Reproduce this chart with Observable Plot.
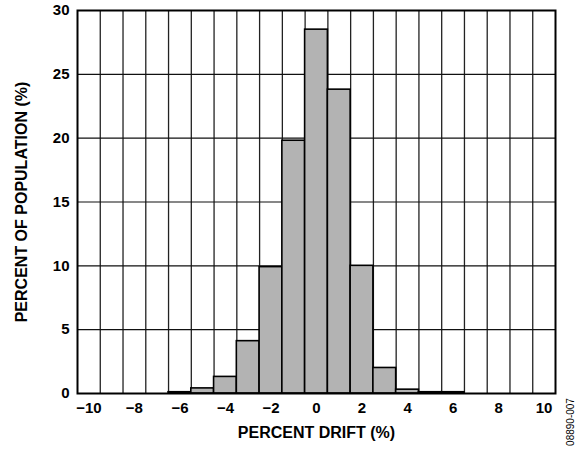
<!DOCTYPE html>
<html>
<head>
<meta charset="utf-8">
<script src="https://cdn.jsdelivr.net/npm/d3@7"></script>
<script src="https://cdn.jsdelivr.net/npm/@observablehq/plot@0.6"></script>
<style>
  html, body { margin: 0; padding: 0; background: #fff; }
  svg { display: block; }
</style>
</head>
<body>
<div id="chart"></div>
<script>
const driftBins = [-6, -5, -4, -3, -2, -1, 0, 1, 2, 3, 4, 5, 6];
const population = [0.1, 0.4, 1.3, 4.1, 9.9, 19.8, 28.5, 23.8, 10.0, 2.0, 0.3, 0.1, 0.1];
const xTicks = [-10, -8, -6, -4, -2, 0, 2, 4, 6, 8, 10];
const yTicks = [0, 5, 10, 15, 20, 25, 30];
const xGrid = d3.range(-9.5, 10, 1);
const yGrid = [5, 10, 15, 20, 25];
const xLabel = "PERCENT DRIFT (%)";
const yLabel = "PERCENT OF POPULATION (%)";
const figId = "08890-007";

const data = driftBins.map((b, i) => ({bin: b, value: population[i]}));

const chart = Plot.plot({
  width: 582,
  height: 453,
  marginLeft: 77,
  marginRight: 27,
  marginTop: 10,
  marginBottom: 60,
  style: {fontFamily: "Liberation Sans, Arial, sans-serif", fontSize: "15px", fontWeight: "bold", color: "#000", background: "#fff"},
  x: {domain: [-10.5, 10.5]},
  y: {domain: [0, 30]},
  marks: [
    Plot.ruleX(xGrid, {stroke: "#222", strokeWidth: 1.3}),
    Plot.ruleY(yGrid, {stroke: "#111", strokeWidth: 1.2}),
    Plot.rectY(data, {x1: d => d.bin - 0.5, x2: d => d.bin + 0.5, y: "value", fill: "#b3b3b3", stroke: "#000", strokeWidth: 1.6}),
    Plot.frame({stroke: "#000", strokeWidth: 2}),
    Plot.axisX(xTicks, {tickSize: 0, tickPadding: 9, tickFormat: d => d < 0 ? "\u2212" + Math.abs(d) : String(d), label: null, fontWeight: "bold", fontSize: 15}),
    Plot.axisY(yTicks, {tickSize: 0, tickPadding: 8, label: null, fontWeight: "bold", fontSize: 15}),
    Plot.text([xLabel], {frameAnchor: "bottom", dy: 44, fontWeight: "bold", fontSize: 16}),
    Plot.text([yLabel], {frameAnchor: "left", textAnchor: "middle", dx: -56, rotate: -90, fontWeight: "bold", fontSize: 16})
  ]
});

const svg = d3.select(chart);
svg.append("text")
  .attr("transform", "translate(574,422) rotate(-90)")
  .attr("text-anchor", "middle")
  .attr("font-family", "Liberation Sans, Arial, sans-serif")
  .attr("font-size", 10)
  .attr("font-weight", "normal")
  .attr("fill", "#000")
  .text(figId);

document.getElementById("chart").appendChild(chart);
</script>
</body>
</html>
